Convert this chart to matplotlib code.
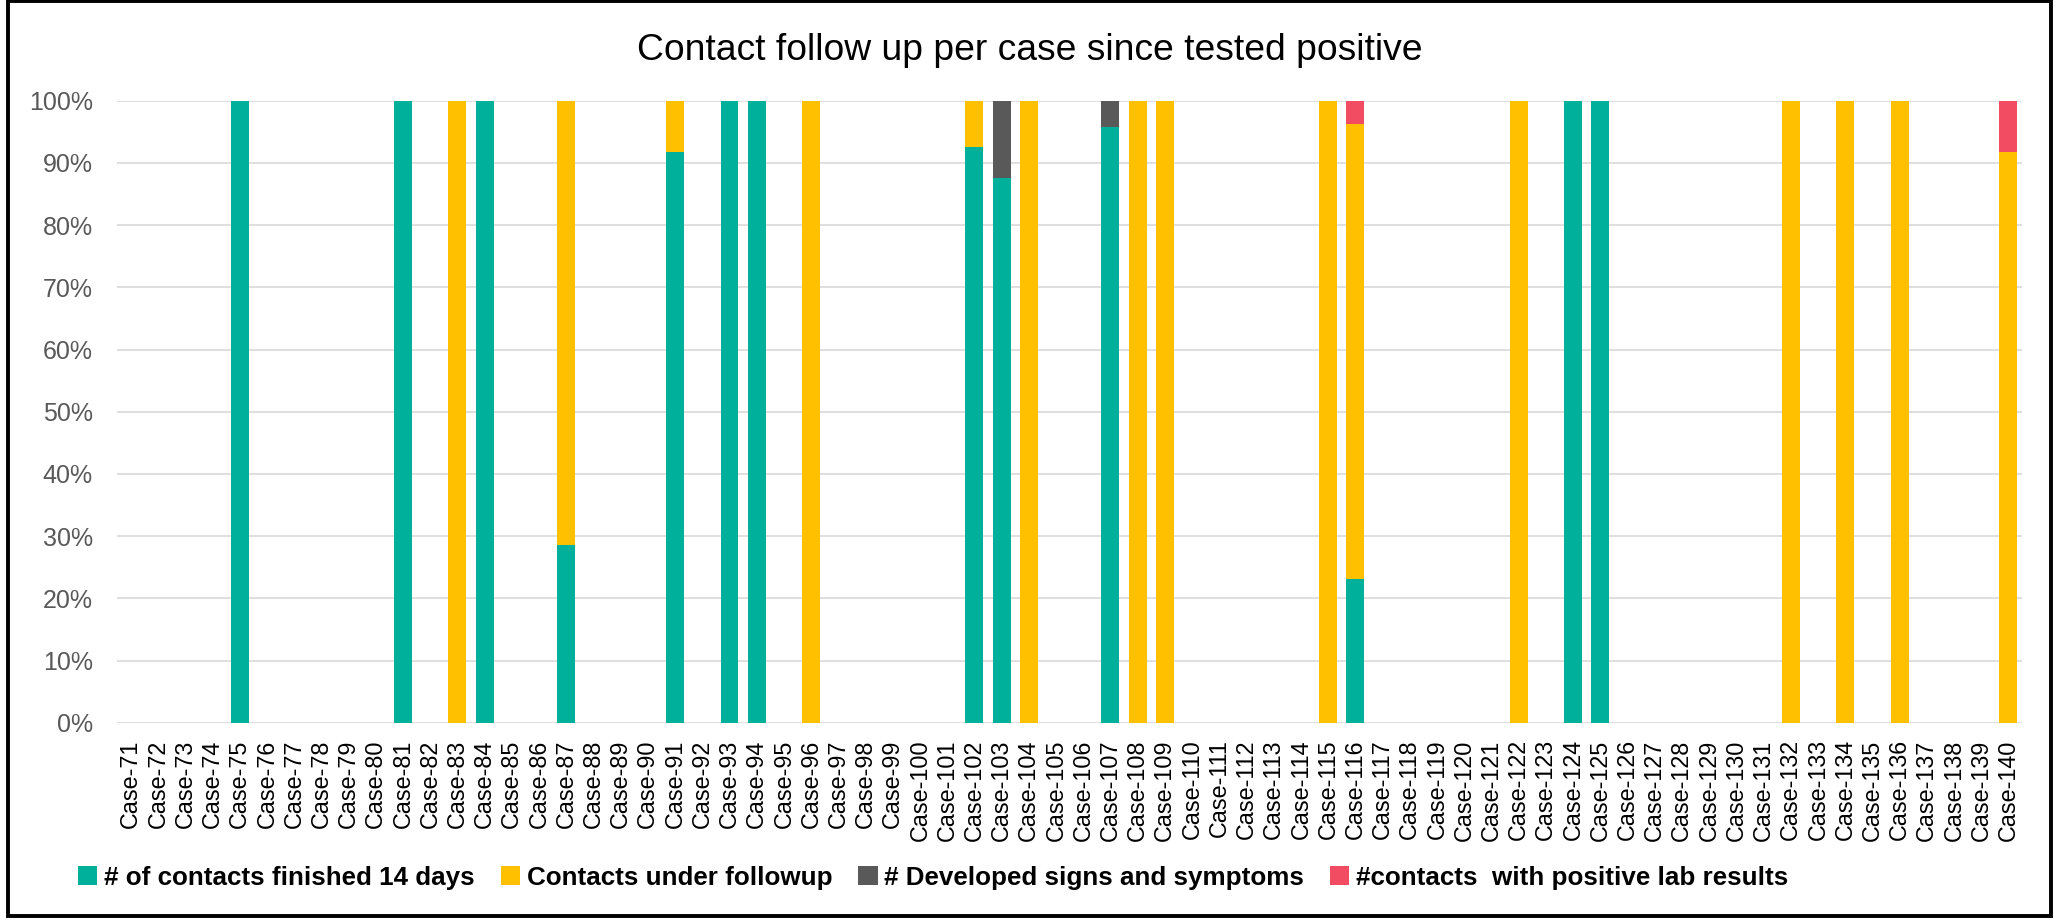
import matplotlib
matplotlib.use("Agg")
import matplotlib.pyplot as plt
from matplotlib.patches import Rectangle, Patch
import numpy as np

plt.rcParams['font.family'] = ['Liberation Sans', 'DejaVu Sans']

# ---- data (share of contacts, %) ----
cases = [f"Case-{i}" for i in range(71, 141)]

finished_14_days = {
    "Case-75": 100, "Case-81": 100, "Case-84": 100, "Case-87": 28.6,
    "Case-91": 91.7, "Case-93": 100, "Case-94": 100, "Case-102": 92.6,
    "Case-103": 87.5, "Case-107": 95.7, "Case-116": 23.1,
    "Case-124": 100, "Case-125": 100,
}
under_followup = {
    "Case-83": 100, "Case-87": 71.4, "Case-91": 8.3, "Case-96": 100,
    "Case-102": 7.4, "Case-104": 100, "Case-108": 100, "Case-109": 100,
    "Case-115": 100, "Case-116": 73.1, "Case-122": 100, "Case-132": 100,
    "Case-134": 100, "Case-136": 100, "Case-140": 91.7,
}
developed_symptoms = {"Case-103": 12.5, "Case-107": 4.3}
positive_lab = {"Case-116": 3.8, "Case-140": 8.3}

series_names = ["# of contacts finished 14 days", "Contacts under followup",
                "# Developed signs and symptoms", "#contacts  with positive lab results"]
series_data = [finished_14_days, under_followup, developed_symptoms, positive_lab]
colors = ["#00B09A", "#FFC000", "#595959", "#F24C62"]

# ---- figure ----
W, H = 2055, 921
fig = plt.figure(figsize=(W / 100, H / 100), dpi=100)
ax = fig.add_axes([116.7 / W, 1 - 722.7 / H, (2022 - 116.7) / W, (722.7 - 100.7) / H])

x = np.arange(len(cases))
bottom = np.zeros(len(cases))
for name, data, col in zip(series_names, series_data, colors):
    vals = np.array([data.get(c, 0.0) for c in cases])
    ax.bar(x, vals, width=0.66, bottom=bottom, color=col, label=name, zorder=3)
    bottom += vals

ax.set_xlim(-0.52, len(cases) - 0.5)
ax.set_ylim(0, 100)
ax.set_yticks(np.arange(0, 101, 10))
ax.set_yticklabels([f"{v}%" for v in range(0, 101, 10)], fontsize=18, color="#595959")
ax.set_xticks(x)
ax.set_xticklabels(cases, rotation=90, fontsize=16.8, color="black")
ax.tick_params(axis='y', length=0, pad=17.3)
ax.tick_params(axis='x', length=0, pad=12)
ax.grid(axis='y', color="#D9D9D9", linewidth=1.2, zorder=0)
ax.set_axisbelow(True)
for s in ax.spines.values():
    s.set_visible(False)

# title
fig.text(0.501, 1 - 60 / H, "Contact follow up per case since tested positive",
         ha="center", va="baseline", fontsize=26.8, color="black")

# legend
handles = [Patch(facecolor=c, edgecolor='none') for c in colors]
leg = fig.legend(handles, series_names, loc="center left",
                 bbox_to_anchor=(78 / W, 1 - 877.5 / H), ncol=4, frameon=False,
                 prop={'weight': 'bold', 'size': 18.7},
                 handlelength=0.75, handleheight=0.75, handletextpad=0.25,
                 columnspacing=1.0, borderpad=0, borderaxespad=0)

# outer frame
fig.patches.append(Rectangle((8 / W, 5 / H), (2051 - 8) / W, (919.5 - 5) / H,
                             transform=fig.transFigure, fill=False,
                             edgecolor="black", linewidth=2.8))

fig.savefig("out.png", dpi=100, facecolor="white")
